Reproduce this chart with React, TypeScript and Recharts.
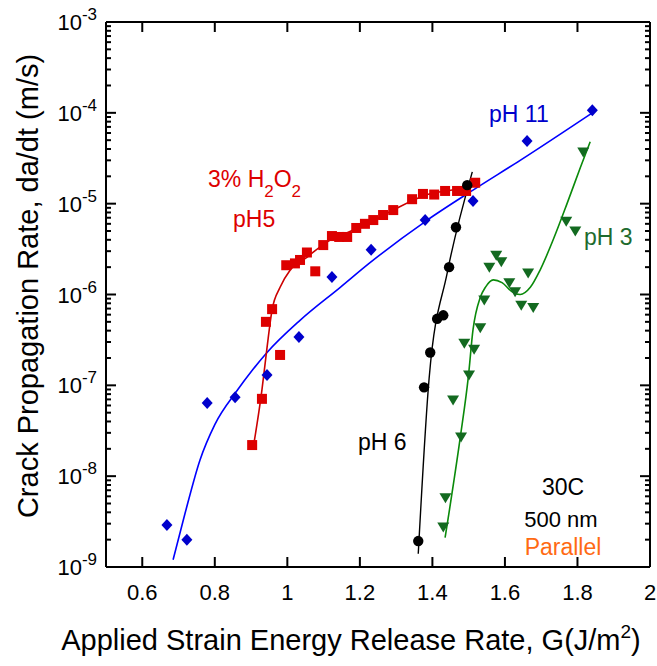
import React from 'react';
import { ComposedChart, Line, Scatter, XAxis, YAxis } from 'recharts';

const FONT = '"Liberation Sans", Arial, Helvetica, sans-serif';

// G (J/m^2) and da/dt (m/s)
const ph11G = [0.668, 0.723, 0.779, 0.856, 0.944, 1.032, 1.123, 1.231, 1.38, 1.512, 1.661, 1.841];
const ph11V = [2.9e-9, 2.0e-9, 6.4e-8, 7.4e-8, 1.3e-7, 3.4e-7, 1.56e-6, 3.1e-6, 6.6e-6, 1.07e-5, 4.9e-5, 1.07e-4];
const ph11FitG = [0.685, 0.718, 0.759, 0.8, 0.861, 0.906, 0.944, 1.035, 1.146, 1.228, 1.386, 1.512, 1.642, 1.841];
const ph11FitV = [1.2e-9, 3.9e-9, 1.5e-8, 3.7e-8, 8.7e-8, 1.51e-7, 2.3e-7, 5.2e-7, 1.2e-6, 2.24e-6, 6.6e-6, 1.41e-5, 3.0e-5, 1.0e-4];

const h2o2G = [0.903, 0.93, 0.941, 0.958, 0.98, 0.997, 1.021, 1.035, 1.054, 1.077, 1.099, 1.123, 1.143, 1.165, 1.19, 1.214, 1.237, 1.264, 1.292, 1.344, 1.374, 1.405, 1.435, 1.468, 1.493, 1.518];
const h2o2V = [2.2e-8, 7.1e-8, 5.0e-7, 6.9e-7, 2.16e-7, 2.1e-6, 2.2e-6, 2.4e-6, 2.9e-6, 1.8e-6, 3.5e-6, 4.4e-6, 4.3e-6, 4.3e-6, 5.4e-6, 6.0e-6, 6.6e-6, 7.5e-6, 8.5e-6, 1.12e-5, 1.28e-5, 1.26e-5, 1.38e-5, 1.38e-5, 1.38e-5, 1.7e-5];
const h2o2FitG = [0.905, 0.93, 0.944, 0.958, 0.98, 1.008, 1.054, 1.11, 1.165, 1.228, 1.292, 1.386, 1.477, 1.526];
const h2o2FitV = [1.95e-8, 8.9e-8, 2.6e-7, 6.8e-7, 1.2e-6, 1.86e-6, 2.57e-6, 3.8e-6, 4.8e-6, 6.2e-6, 8.5e-6, 1.26e-5, 1.48e-5, 1.74e-5];

const ph6G = [1.361, 1.377, 1.394, 1.413, 1.43, 1.446, 1.465, 1.496];
const ph6V = [1.93e-9, 9.5e-8, 2.3e-7, 5.4e-7, 5.9e-7, 2.0e-6, 5.5e-6, 1.6e-5];
const ph6FitG = [1.361, 1.391, 1.441, 1.51];
const ph6FitV = [1.4e-9, 1.2e-7, 1.74e-6, 2.24e-5];

const ph3G = [1.43, 1.436, 1.457, 1.479, 1.488, 1.501, 1.515, 1.532, 1.543, 1.557, 1.576, 1.59, 1.612, 1.628, 1.645, 1.664, 1.678, 1.769, 1.794, 1.816];
const ph3V = [2.76e-9, 5.8e-9, 6.9e-8, 2.7e-8, 2.9e-7, 1.3e-7, 2.5e-7, 4.3e-7, 8.7e-7, 2.0e-6, 2.7e-6, 2.3e-6, 1.35e-6, 1.07e-6, 7.6e-7, 1.73e-6, 7.2e-7, 6.4e-6, 5.0e-6, 3.7e-5];
const ph3FitG = [1.435, 1.477, 1.499, 1.512, 1.532, 1.546, 1.568, 1.592, 1.62, 1.642, 1.67, 1.697, 1.733, 1.772, 1.808, 1.835];
const ph3FitV = [2.1e-9, 2.7e-8, 1.23e-7, 4.1e-7, 9.3e-7, 1.2e-6, 1.45e-6, 1.35e-6, 1.07e-6, 1.0e-6, 1.2e-6, 1.86e-6, 4.0e-6, 1.02e-5, 2.5e-5, 4.8e-5];

const xTicks = [0.6, 0.8, 1, 1.2, 1.4, 1.6, 1.8, 2];
const yMajor = [1e-9, 1e-8, 1e-7, 1e-6, 1e-5, 1e-4, 1e-3];
const yExpLabels = ['-9', '-8', '-7', '-6', '-5', '-4', '-3'];
const yMinorSteps = [2, 3, 4, 5, 6, 7, 8, 9];

const yTicks = yMajor.flatMap((m, i) =>
  i < yMajor.length - 1 ? [m, ...yMinorSteps.map((k) => k * m)] : [m]
);

const zip = (g: number[], v: number[]) => g.map((x, i) => ({ g: x, v: v[i] }));

const majorIndex = (v: number) => yMajor.findIndex((m) => Math.abs(m - v) / m < 1e-6);

function LeftTick({ x, y, payload }: any) {
  const idx = majorIndex(payload.value);
  const major = idx >= 0;
  return (
    <g>
      <line x1={x} x2={x + (major ? 10 : 5)} y1={y} y2={y} stroke="#000" strokeWidth={2} />
      {major && (
        <text x={x - 9} y={y + 8} textAnchor="end" fontFamily={FONT} fontSize={22} fill="#000">
          10
          <tspan dy={-10} fontSize={17}>
            {yExpLabels[idx]}
          </tspan>
        </text>
      )}
    </g>
  );
}

function RightTick({ x, y, payload }: any) {
  const major = majorIndex(payload.value) >= 0;
  return <line x1={x} x2={x - (major ? 10 : 5)} y1={y} y2={y} stroke="#000" strokeWidth={2} />;
}

function BottomTick({ x, y, payload }: any) {
  return (
    <g>
      <line x1={x} x2={x} y1={y} y2={y - 10} stroke="#000" strokeWidth={2} />
      <text x={x} y={y + 33} textAnchor="middle" fontFamily={FONT} fontSize={22} fill="#000">
        {String(payload.value)}
      </text>
    </g>
  );
}

function TopTick({ x, y }: any) {
  return <line x1={x} x2={x} y1={y} y2={y + 10} stroke="#000" strokeWidth={2} />;
}

const Diamond = ({ cx, cy }: any) => (
  <polygon points={`${cx},${cy - 6} ${cx + 5.5},${cy} ${cx},${cy + 6} ${cx - 5.5},${cy}`} fill="#0000cc" />
);
const Square = ({ cx, cy }: any) => <rect x={cx - 5} y={cy - 5} width={10} height={10} fill="#dd0000" />;
const Dot = ({ cx, cy }: any) => <circle cx={cx} cy={cy} r={5.2} fill="#000" />;
const TriDown = ({ cx, cy }: any) => (
  <polygon points={`${cx - 6},${cy - 4.5} ${cx + 6},${cy - 4.5} ${cx},${cy + 5.5}`} fill="#136a20" />
);

const axisLine = { stroke: '#000', strokeWidth: 2 };

export default function App() {
  return (
    <div style={{ position: 'absolute', left: 0, top: 0, width: 657, height: 666, background: '#fff', fontFamily: FONT }}>
      <ComposedChart width={657} height={666} margin={{ top: 0, right: 0, bottom: 0, left: 0 }}>
        <XAxis
          dataKey="g"
          type="number"
          domain={[0.5, 2]}
          ticks={xTicks}
          interval={0}
          height={99}
          tickSize={0}
          tickMargin={0}
          tickLine={false}
          axisLine={axisLine}
          tick={<BottomTick />}
          allowDataOverflow
        />
        <XAxis
          xAxisId="top"
          orientation="top"
          dataKey="g"
          type="number"
          domain={[0.5, 2]}
          ticks={xTicks}
          interval={0}
          height={22}
          tickSize={0}
          tickMargin={0}
          tickLine={false}
          axisLine={axisLine}
          tick={<TopTick />}
          allowDataOverflow
        />
        <YAxis
          dataKey="v"
          type="number"
          scale="log"
          domain={[1e-9, 1e-3]}
          ticks={yTicks}
          interval={0}
          width={106}
          tickSize={0}
          tickMargin={0}
          tickLine={false}
          axisLine={axisLine}
          tick={<LeftTick />}
          allowDataOverflow
        />
        <YAxis
          yAxisId="right"
          orientation="right"
          dataKey="v"
          type="number"
          scale="log"
          domain={[1e-9, 1e-3]}
          ticks={yTicks}
          interval={0}
          width={7}
          tickSize={0}
          tickMargin={0}
          tickLine={false}
          axisLine={axisLine}
          tick={<RightTick />}
          allowDataOverflow
        />

        <Line data={zip(ph11FitG, ph11FitV)} dataKey="v" type="monotone" stroke="#0000ff" strokeWidth={1.6} dot={false} activeDot={false} isAnimationActive={false} />
        <Line data={zip(h2o2FitG, h2o2FitV)} dataKey="v" type="monotone" stroke="#cc0000" strokeWidth={1.6} dot={false} activeDot={false} isAnimationActive={false} />
        <Line data={zip(ph6FitG, ph6FitV)} dataKey="v" type="monotone" stroke="#000" strokeWidth={1.4} dot={false} activeDot={false} isAnimationActive={false} />
        <Line data={zip(ph3FitG, ph3FitV)} dataKey="v" type="monotone" stroke="#0a8a0a" strokeWidth={1.6} dot={false} activeDot={false} isAnimationActive={false} />

        <Scatter data={zip(ph11G, ph11V)} dataKey="v" shape={Diamond} isAnimationActive={false} />
        <Scatter data={zip(h2o2G, h2o2V)} dataKey="v" shape={Square} isAnimationActive={false} />
        <Scatter data={zip(ph6G, ph6V)} dataKey="v" shape={Dot} isAnimationActive={false} />
        <Scatter data={zip(ph3G, ph3V)} dataKey="v" shape={TriDown} isAnimationActive={false} />
      </ComposedChart>

      <svg width={657} height={666} style={{ position: 'absolute', left: 0, top: 0, pointerEvents: 'none' }} fontFamily={FONT}>
        <text x={38} y={286} transform="rotate(-90 38 286)" textAnchor="middle" fontSize={29} fill="#000">
          Crack Propagation Rate, da/dt (m/s)
        </text>
        <text x={351} y={650} textAnchor="middle" fontSize={29} fill="#000">
          Applied Strain Energy Release Rate, G(J/m
          <tspan dy={-12} fontSize={19}>2</tspan>
          <tspan dy={12}>)</tspan>
        </text>

        <text x={489} y={122} fontSize={23} fill="#0000cc">pH 11</text>
        <text x={208} y={187} fontSize={23} fill="#dd0000">
          3% H<tspan dy={10} fontSize={17}>2</tspan>
          <tspan dy={-10}>O</tspan>
          <tspan dy={10} fontSize={17}>2</tspan>
        </text>
        <text x={233} y={227} fontSize={23} fill="#dd0000">pH5</text>
        <text x={358} y={450} fontSize={23} fill="#000">pH 6</text>
        <text x={584} y={245} fontSize={23} fill="#1e6b2e">pH 3</text>
        <text x={563} y={495} textAnchor="middle" fontSize={23} fill="#000">30C</text>
        <text x={561} y={527} textAnchor="middle" fontSize={22} fill="#000">500 nm</text>
        <text x={563} y={555} textAnchor="middle" fontSize={23} fill="#ff6a13">Parallel</text>
      </svg>
    </div>
  );
}
